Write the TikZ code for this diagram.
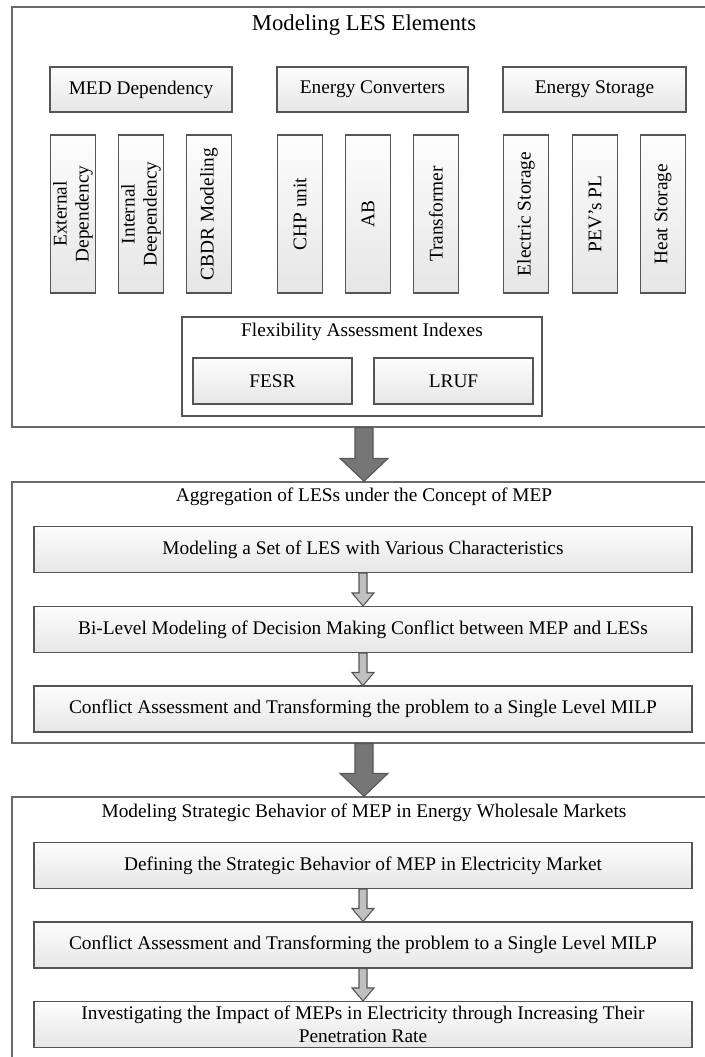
\documentclass[tikz,border=0pt]{standalone}
\usepackage{fontspec}
\setmainfont{Liberation Serif}
\usetikzlibrary{positioning, calc}
\definecolor{FrameGray}{RGB}{105,105,105}
\definecolor{BoxLine}{RGB}{85,85,85}
\definecolor{BoxLight}{RGB}{253,253,253}
\definecolor{BoxDark}{RGB}{230,230,230}
\definecolor{BigGray}{RGB}{118,118,118}
\definecolor{SmallGray}{RGB}{192,192,192}
\tikzstyle{frame} = [rectangle, draw=FrameGray, line width=1pt, inner sep=0pt]
\tikzstyle{hbox} = [rectangle, draw=BoxLine, line width=0.8pt, top color=BoxLight, bottom color=BoxDark, minimum height=33.75pt, align=center, inner sep=1pt, font=\fontsize{14.5}{16.5}\selectfont]
\tikzstyle{vbox} = [hbox, rotate=90, minimum width=118.5pt, minimum height=33.75pt]
\tikzstyle{wide} = [hbox, minimum width=493.5pt, minimum height=34.5pt]
\tikzstyle{heading} = [font=\fontsize{14.5}{16.5}\selectfont]
\tikzstyle{bigarrow} = [draw=BoxLine, line width=0.8pt, fill=BigGray]
\tikzstyle{smallarrow} = [draw=BoxLine, line width=0.8pt, fill=SmallGray]
% block arrow pointing down: style, from, to, shaft half width, head half width, head length
\newcommand{\downblock}[6]{%
  \path[#1] let \p1=(#2), \p2=(#3) in
    (\x1-#4,\y1) -- (\x1-#4,\y2+#6) -- (\x1-#5,\y2+#6) -- (\x1,\y2)
    -- (\x1+#5,\y2+#6) -- (\x1+#4,\y2+#6) -- (\x1+#4,\y1) -- cycle;}

\begin{document}
\begin{tikzpicture}[x=0.75pt, y=-0.75pt]
\clip (0,0) rectangle (705,1057);

% Stage 1: LES elements
\node (les) [frame, minimum width=531pt, minimum height=315pt] at (366,217) {};
\node (lestitle) [heading, font=\fontsize{17}{19}\selectfont] at (364,25) {Modeling LES Elements};

\node (med) [hbox, minimum width=136.5pt] at (141,89.5) {MED Dependency};
\node (conv) [hbox, minimum width=143.25pt] at (372.5,89.5) {Energy Converters};
\node (stor) [hbox, minimum width=137.25pt] at (594.5,89.5) {Energy Storage};

\node (ext) [vbox] at (73,214) {External\\Dependency};
\node (int) [vbox] at (141,214) {Internal\\Deependency};
\node (cbdr) [vbox] at (209,214) {CBDR Modeling};
\node (chp) [vbox] at (300,214) {CHP unit};
\node (ab) [vbox] at (368,214) {AB};
\node (trans) [vbox] at (436,214) {Transformer};
\node (elec) [vbox] at (526,214) {Electric Storage};
\node (pev) [vbox] at (595,214) {PEV’s PL};
\node (heat) [vbox] at (663,214) {Heat Storage};

\node (flex) [frame, draw=BoxLine, line width=0.8pt, minimum width=270pt, minimum height=74.25pt] at (362,366.5) {};
\node (flextitle) [heading] at (362,332) {Flexibility Assessment Indexes};
\node (fesr) [hbox, minimum width=119.25pt, minimum height=34.5pt] at (272.5,381) {FESR};
\node (lruf) [hbox, minimum width=119.25pt, minimum height=34.5pt] at (453.5,381) {LRUF};

% Stage 2: aggregation
\node (agg) [frame, minimum width=531pt, minimum height=195.75pt] at (366,612.5) {};
\node (aggtitle) [heading] at (364,497) {Aggregation of LESs under the Concept of MEP};
\node (set) [wide] at (363,549.5) {Modeling a Set of LES with Various Characteristics};
\node (bilevel) [wide] at (363,629.5) {Bi-Level Modeling of Decision Making Conflict between MEP and LESs};
\node (milpa) [wide] at (363,709) {Conflict Assessment and Transforming the problem to a Single Level MILP};

% Stage 3: strategic behavior
\node (mkt) [frame, minimum width=531pt, minimum height=210pt] at (366,937) {};
\node (mkttitle) [heading] at (364,813) {Modeling Strategic Behavior of MEP in Energy Wholesale Markets};
\node (define) [wide] at (363,865.5) {Defining the Strategic Behavior of MEP in Electricity Market};
\node (milpb) [wide] at (363,945) {Conflict Assessment and Transforming the problem to a Single Level MILP};
\node (impact) [wide] at (363,1024.5) {Investigating the Impact of MEPs in Electricity through Increasing Their\\[0.5pt]Penetration Rate};

% Arrows between stages
\downblock{bigarrow}{les.south -| lestitle}{agg.north -| aggtitle}{6.75pt}{18pt}{17.25pt}
\downblock{bigarrow}{agg.south -| aggtitle}{mkt.north -| mkttitle}{6.75pt}{18pt}{17.25pt}

% Arrows inside stages
\downblock{smallarrow}{set.south}{bilevel.north}{3pt}{8.25pt}{9.75pt}
\downblock{smallarrow}{bilevel.south}{milpa.north}{3pt}{8.25pt}{9.75pt}
\downblock{smallarrow}{define.south}{milpb.north}{3pt}{8.25pt}{9.75pt}
\downblock{smallarrow}{milpb.south}{impact.north}{3pt}{8.25pt}{9.75pt}

\end{tikzpicture}
\end{document}
